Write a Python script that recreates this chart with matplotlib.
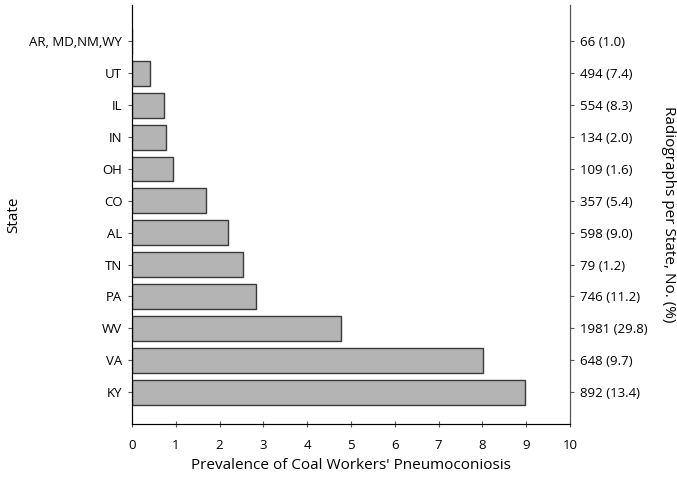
import matplotlib
matplotlib.use('Agg')
import matplotlib.pyplot as plt
import numpy as np

# data, bottom to top
states = ['KY', 'VA', 'WV', 'PA', 'TN', 'AL', 'CO', 'OH', 'IN', 'IL', 'UT',
          'AR, MD,NM,WY']
prevalence = [8.97, 8.01, 4.76, 2.83, 2.54, 2.18, 1.70, 0.93, 0.77, 0.74, 0.42, 0.0]
radiographs = ['892 (13.4)', '648 (9.7)', '1981 (29.8)', '746 (11.2)', '79 (1.2)',
               '598 (9.0)', '357 (5.4)', '109 (1.6)', '134 (2.0)', '554 (8.3)',
               '494 (7.4)', '66 (1.0)']

plt.rcParams['font.family'] = ['Open Sans', 'DejaVu Sans']
plt.rcParams['font.size'] = 9.5

fig = plt.figure(figsize=(6.77, 4.78), dpi=100)
ax = fig.add_axes([0.195, 0.113, 0.647, 0.877])

y = np.arange(len(states))
ax.barh(y, prevalence, height=0.78, color='#b4b4b4', edgecolor='#3a3a3a', linewidth=1.0)

ax.set_xlim(0, 10)
ax.set_ylim(-1, 12.15)
ax.set_xticks(range(0, 11))
ax.set_yticks(y)
ax.set_yticklabels(states)
ax.spines['top'].set_visible(False)
for s in ['left', 'bottom', 'right']:
    ax.spines[s].set_color('#555555')
ax.tick_params(axis='y', direction='out', length=3, color='#555555', pad=4)
ax.tick_params(axis='x', direction='inout', length=5, color='#555555', pad=8)
ax.set_xlabel("Prevalence of Coal Workers' Pneumoconiosis", fontsize=11)
ax.xaxis.set_label_coords(0.5, -0.08)
ax.set_ylabel('State', fontsize=11)
ax.yaxis.set_label_coords(-0.252, 0.5)

ax2 = ax.twinx()
ax2.set_ylim(ax.get_ylim())
ax2.set_yticks(y)
ax2.set_yticklabels(radiographs)
ax2.spines['top'].set_visible(False)
ax2.spines['right'].set_color('#555555')
ax2.tick_params(axis='y', direction='out', length=3, color='#555555', pad=4)
ax2.set_ylabel('Radiographs per State, No. (%)', fontsize=11, rotation=-90, va='center')
ax2.yaxis.set_label_coords(1.224, 0.5)

fig.savefig('out.png', dpi=100)
